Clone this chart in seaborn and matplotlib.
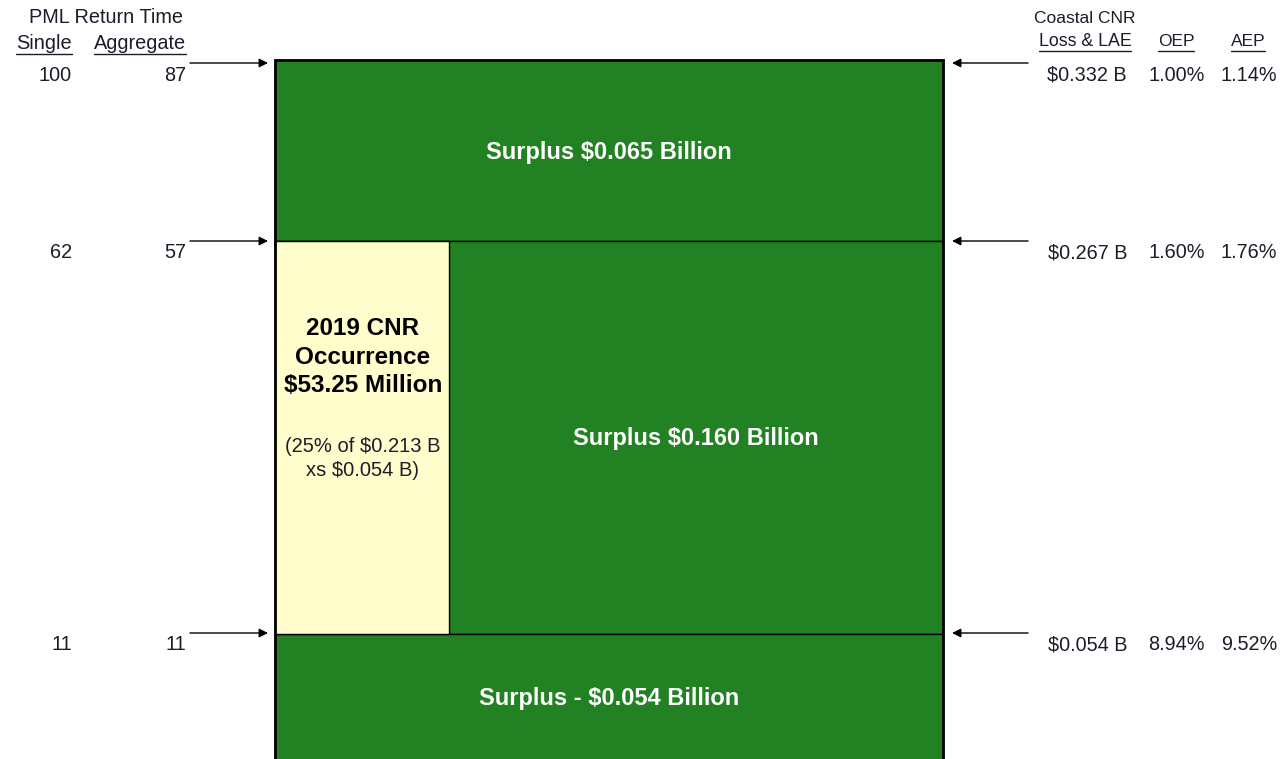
import matplotlib.pyplot as plt
import seaborn as sns
from matplotlib.patches import Rectangle

# data
single_rp = [100, 62, 11]
aggregate_rp = [87, 57, 11]
loss_lae = [0.332, 0.267, 0.054]   # $ billion
oep = [1.00, 1.60, 8.94]           # %
aep = [1.14, 1.76, 9.52]           # %
surplus_labels = ["Surplus $0.065 Billion", "Surplus $0.160 Billion", "Surplus - $0.054 Billion"]
cnr_title = ["2019 CNR", "Occurrence", "$53.25 Million"]
cnr_note = ["(25% of $0.213 B", "xs $0.054 B)"]

# layout (schematic canvas, pixel-like units)
level_y = [60, 241, 634]
box_left, box_right, box_bottom = 275, 943, 790
cnr_right = 449
green = "#228122"
cream = "#FFFDCC"
txt = "#1c1c2a"

sns.set_style("white")
plt.rcParams['font.family'] = ['Liberation Sans', 'DejaVu Sans']

fig = plt.figure(figsize=(12.8, 7.59), dpi=100)
ax = fig.add_axes([0, 0, 1, 1])
ax.set_xlim(0, 1280)
ax.set_ylim(759, 0)
ax.axis('off')

# layers
bounds = level_y + [box_bottom]
for i in range(3):
    ax.add_patch(Rectangle((box_left, bounds[i]), box_right - box_left, bounds[i + 1] - bounds[i],
                           facecolor=green, edgecolor='black', lw=1.0))
ax.add_patch(Rectangle((box_left, bounds[1]), cnr_right - box_left, bounds[2] - bounds[1],
                       facecolor=cream, edgecolor='black', lw=1.0))
# thick outer frame
ax.plot([box_left, box_left, box_right, box_right], [box_bottom, level_y[0], level_y[0], box_bottom],
        color='black', lw=2.0, solid_joinstyle='miter')

# layer labels
bold = dict(color='white', fontsize=17, fontweight='bold', ha='center', va='baseline')
ax.text((box_left + box_right) / 2, 159, surplus_labels[0], **bold)
ax.text((cnr_right + box_right) / 2, 445, surplus_labels[1], **bold)
ax.text((box_left + box_right) / 2, 705, surplus_labels[2], **bold)

cx = (box_left + cnr_right) / 2 + 1
for j, s in enumerate(cnr_title):
    ax.text(cx, 335 + 28.5 * j, s, color='black', fontsize=17.5, fontweight='bold', ha='center', va='baseline')
for j, s in enumerate(cnr_note):
    ax.text(cx, 452 + 24 * j, s, color=txt, fontsize=14.5, ha='center', va='baseline')

# arrows
arrow_y = [63, 241, 633]
for y in arrow_y:
    ax.annotate('', xy=(268, y), xytext=(190, y),
                arrowprops=dict(arrowstyle='-|>', color='black', lw=1.0, mutation_scale=13, shrinkA=0, shrinkB=0))
    ax.annotate('', xy=(952, y), xytext=(1028, y),
                arrowprops=dict(arrowstyle='-|>', color='black', lw=1.0, mutation_scale=13, shrinkA=0, shrinkB=0))

fig.canvas.draw()
renderer = fig.canvas.get_renderer()
inv = ax.transData.inverted()


def underlined(x, y, s, ha, size):
    t = ax.text(x, y, s, color=txt, fontsize=size, ha=ha, va='baseline')
    bb = t.get_window_extent(renderer)
    (x0, _), (x1, _) = inv.transform([(bb.x0, bb.y0), (bb.x1, bb.y1)])
    ax.plot([x0, x1], [y + 4.5, y + 4.5], color=txt, lw=1.0)


# left header
ax.text(106, 23, "PML Return Time", color=txt, fontsize=14.3, ha='center', va='baseline')
underlined(72, 49, "Single", 'right', 14.3)
underlined(186, 49, "Aggregate", 'right', 14.3)
# right header
ax.text(1085, 23, "Coastal CNR", color=txt, fontsize=12.5, ha='center', va='baseline')
underlined(1085, 46, "Loss & LAE", 'center', 12.8)
underlined(1176, 46, "OEP", 'center', 12.5)
underlined(1248, 46, "AEP", 'center', 12.5)

row_y = [81, 258, 650]
for i, y in enumerate(row_y):
    ax.text(72, y, f"{single_rp[i]}", color=txt, fontsize=14.3, ha='right', va='baseline')
    ax.text(186, y, f"{aggregate_rp[i]}", color=txt, fontsize=14.3, ha='right', va='baseline')
    ax.text(1127, y, f"${loss_lae[i]:.3f} B", color=txt, fontsize=14.3, ha='right', va='baseline')
    ax.text(1205, y, f"{oep[i]:.2f}%", color=txt, fontsize=14.3, ha='right', va='baseline')
    ax.text(1277, y, f"{aep[i]:.2f}%", color=txt, fontsize=14.3, ha='right', va='baseline')

fig.savefig("out.png", dpi=100)
